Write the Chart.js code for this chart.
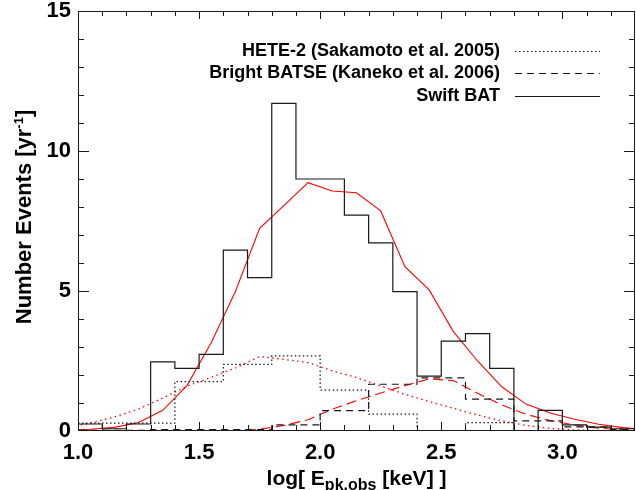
<!DOCTYPE html>
<html>
<head>
<meta charset="utf-8">
<script src="https://cdn.jsdelivr.net/npm/chart.js@4.4.1/dist/chart.umd.min.js"></script>
<style>
  html, body { margin: 0; padding: 0; background: #ffffff; }
  #wrap { width: 636px; height: 490px; position: relative; }
</style>
</head>
<body>
<div id="wrap"><canvas id="c"></canvas></div>
<script>
// Lower edges of the 0.1-wide log(Epk) bins, and the upper edge of the last bin
const binEdges = [1.0, 1.1, 1.2, 1.3, 1.4, 1.5, 1.6, 1.7, 1.8, 1.9, 2.0, 2.1,
                  2.2, 2.3, 2.4, 2.5, 2.6, 2.7, 2.8, 2.9, 3.0, 3.1, 3.2];
const binTop = 3.3;

// Observed rates per bin [yr^-1]
const swiftBAT = [0.25, 0.08, 0.25, 2.47, 2.24, 2.74, 6.46, 5.48, 11.70, 9.0, 9.0, 7.71,
                  6.72, 4.98, 1.96, 3.21, 3.48, 2.24, 0.0, 0.74, 0.22, 0.14, 0.08];
const hete2    = [0.28, 0.28, 0.28, 0.28, 1.76, 1.76, 2.38, 2.38, 2.68, 2.68, 1.46, 1.46,
                  0.60, 0.60, 0.0, 0.0, 0.30, 0.30, 0.0, 0.0, 0.0, 0.0, 0.0];
const batse    = [0.02, 0.02, 0.02, 0.05, 0.05, 0.05, 0.05, 0.05, 0.22, 0.22, 0.73, 0.73,
                  1.67, 1.67, 1.90, 1.90, 1.14, 1.14, 0.36, 0.36, 0.15, 0.15, 0.05];

// Model curves sampled at bin centres
const modelX     = [0.95, 1.05, 1.15, 1.25, 1.35, 1.45, 1.55, 1.65, 1.75, 1.85, 1.95, 2.05, 2.15,
                    2.25, 2.35, 2.45, 2.55, 2.65, 2.75, 2.85, 2.95, 3.05, 3.15, 3.25, 3.35];
const swiftModel = [0.02, 0.06, 0.13, 0.30, 0.74, 1.62, 3.15, 4.98, 7.24, 8.05, 8.87, 8.57, 8.51,
                    7.86, 5.87, 5.04, 3.55, 2.50, 1.58, 0.96, 0.64, 0.42, 0.24, 0.12, 0.06];
const heteModel  = [0.12, 0.28, 0.50, 0.78, 1.18, 1.60, 1.92, 2.25, 2.66, 2.56, 2.44, 2.15, 1.91,
                    1.61, 1.31, 1.05, 0.81, 0.57, 0.36, 0.20, 0.09, 0.04, 0.02, 0.01, 0.0];
const batseModel = [0.0, 0.01, 0.01, 0.0, 0.0, 0.0, 0.01, 0.02, 0.06, 0.20, 0.40, 0.78, 1.08,
                    1.36, 1.62, 1.86, 1.80, 1.35, 0.93, 0.60, 0.37, 0.22, 0.10, 0.04, 0.02];

// Axis tick labels
const xTicks = [1.0, 1.5, 2.0, 2.5, 3.0];
const yTicks = [0, 5, 10, 15];

// Legend entries (top to bottom)
const legendLabels = ['HETE-2 (Sakamoto et al. 2005)', 'Bright BATSE (Kaneko et al. 2006)', 'Swift BAT'];

const FONT = "'Liberation Sans', Arial, Helvetica, sans-serif";
const INK = '#1a1a1a';
const RED = '#ff0000';

function histPoints(vals) {
  const pts = binEdges.map((x, i) => ({ x: x, y: vals[i] }));
  pts.push({ x: binTop, y: vals[vals.length - 1] });
  return pts;
}
function curvePoints(vals) {
  return modelX.map((x, i) => ({ x: x, y: vals[i] }));
}

const lineBase = { pointRadius: 0, pointHoverRadius: 0, fill: false, tension: 0 };

const datasets = [
  Object.assign({ label: legendLabels[0], data: histPoints(hete2), borderColor: INK,
    borderWidth: 1.2, borderDash: [1.5, 2.5], stepped: 'before' }, lineBase),
  Object.assign({ label: legendLabels[1], data: histPoints(batse), borderColor: INK,
    borderWidth: 1.2, borderDash: [7, 5], stepped: 'before' }, lineBase),
  Object.assign({ label: legendLabels[2], data: histPoints(swiftBAT), borderColor: INK,
    borderWidth: 1.2, borderDash: [], stepped: 'before' }, lineBase),
  Object.assign({ label: 'Swift BAT model', data: curvePoints(swiftModel), borderColor: RED,
    borderWidth: 1.1, borderDash: [] }, lineBase),
  Object.assign({ label: 'HETE-2 model', data: curvePoints(heteModel), borderColor: RED,
    borderWidth: 1.3, borderDash: [1.5, 3.5] }, lineBase),
  Object.assign({ label: 'BATSE model', data: curvePoints(batseModel), borderColor: RED,
    borderWidth: 1.1, borderDash: [10, 5] }, lineBase)
];

// Closed frame with inward major/minor ticks on all four sides (1px filled strips)
function drawFrame(chart) {
  const ctx = chart.ctx, a = chart.chartArea;
  const xs = chart.scales.x, ys = chart.scales.y;
  const L = Math.round(a.left), R = Math.round(a.right) - 1;
  const T = Math.round(a.top), B = Math.round(a.bottom) - 1;
  ctx.save();
  ctx.globalAlpha = 1;
  ctx.fillStyle = INK;
  ctx.fillRect(L, T, R - L + 1, 1);
  ctx.fillRect(L, B, R - L + 1, 1);
  ctx.fillRect(L, T, 1, B - T + 1);
  ctx.fillRect(R, T, 1, B - T + 1);
  // x ticks every 0.1, major every 0.5
  for (let k = 10; k <= 33; k++) {
    const px = Math.round(xs.getPixelForValue(k / 10));
    if (px <= L + 1 || px >= R - 1) continue;
    const len = (k % 5 === 0) ? 8 : 5;
    ctx.fillRect(px, B - len, 1, len);
    ctx.fillRect(px, T, 1, len);
  }
  // y ticks every 1, major every 5
  for (let v = 0; v <= 15; v++) {
    const py = Math.round(ys.getPixelForValue(v));
    if (py <= T + 1 || py >= B - 1) continue;
    const len = (v % 5 === 0) ? 11 : 6;
    ctx.fillRect(L, py, len, 1);
    ctx.fillRect(R - len + 1, py, len, 1);
  }
  ctx.restore();
}

// Axis titles with sub/superscripts, and the line-style legend
function drawTexts(chart) {
  const ctx = chart.ctx, a = chart.chartArea;
  ctx.save();
  ctx.fillStyle = '#000';
  ctx.textBaseline = 'alphabetic';
  ctx.textAlign = 'left';

  // x title: log[ E_pk.obs [keV] ]
  const big = 'bold 21px ' + FONT, sub = 'bold 16px ' + FONT;
  const parts = [['log[ E', big, 0], ['pk.obs', sub, 5], [' [keV] ]', big, 0]];
  let w = 0;
  parts.forEach(p => { ctx.font = p[1]; w += ctx.measureText(p[0]).width; });
  let cx = (a.left + a.right) / 2 - w / 2;
  parts.forEach(p => { ctx.font = p[1]; ctx.fillText(p[0], cx, 485 + p[2]); cx += ctx.measureText(p[0]).width; });

  // y title: Number Events [yr^-1]
  const ybig = 'bold 22px ' + FONT, sup = 'bold 13px ' + FONT;
  const yparts = [['Number Events [yr', ybig, 0], ['-1', sup, -8], [']', ybig, 0]];
  w = 0;
  yparts.forEach(p => { ctx.font = p[1]; w += ctx.measureText(p[0]).width; });
  ctx.save();
  ctx.translate(31, (a.top + a.bottom) / 2 - 4);
  ctx.rotate(-Math.PI / 2);
  cx = -w / 2;
  yparts.forEach(p => { ctx.font = p[1]; ctx.fillText(p[0], cx, p[2]); cx += ctx.measureText(p[0]).width; });
  ctx.restore();

  // legend
  const rows = [50.5, 72.5, 95.5];
  ctx.font = 'bold 18px ' + FONT;
  ctx.textAlign = 'right';
  ctx.textBaseline = 'middle';
  [0, 1, 2].forEach((di, r) => {
    const ds = chart.data.datasets[di];
    ctx.fillStyle = '#000';
    ctx.fillText(ds.label, 500, rows[r] + 1);
    ctx.strokeStyle = ds.borderColor;
    ctx.lineWidth = 1.2;
    ctx.setLineDash(ds.borderDash || []);
    ctx.beginPath();
    ctx.moveTo(515, Math.round(rows[r]) + 0.5);
    ctx.lineTo(600, Math.round(rows[r]) + 0.5);
    ctx.stroke();
  });
  ctx.restore();
}

const framePlugin = { id: 'plotFrame', afterDraw(chart) { drawFrame(chart); } };
const textPlugin = { id: 'plotTexts', afterDraw(chart) { drawTexts(chart); } };

new Chart(document.getElementById('c'), {
  type: 'line',
  data: { datasets: datasets },
  options: {
    responsive: true,
    maintainAspectRatio: false,
    animation: false,
    events: [],
    layout: { padding: { top: 11, right: 1, left: 0, bottom: 0 } },
    plugins: { legend: { display: false }, tooltip: { enabled: false } },
    scales: {
      x: {
        type: 'linear', min: 1.0, max: 3.3,
        grid: { display: false, drawTicks: false },
        border: { display: false },
        ticks: {
          color: '#000', padding: 11, maxRotation: 0, autoSkip: false,
          font: { family: FONT, size: 22, weight: 'bold', lineHeight: 1 },
          callback: v => Number(v).toFixed(1)
        },
        afterBuildTicks: s => { s.ticks = xTicks.map(v => ({ value: v })); },
        afterFit: s => { s.height = 59; s.paddingLeft = 0; s.paddingRight = 0; }
      },
      y: {
        type: 'linear', min: 0, max: 15,
        grid: { display: false, drawTicks: false },
        border: { display: false },
        ticks: {
          color: '#000', padding: 7, autoSkip: false,
          font: { family: FONT, size: 22, weight: 'bold', lineHeight: 1 },
          callback: v => String(v)
        },
        afterBuildTicks: s => { s.ticks = yTicks.map(v => ({ value: v })); },
        afterFit: s => { s.width = 78; s.paddingTop = 0; s.paddingBottom = 0; }
      }
    }
  },
  plugins: [framePlugin, textPlugin]
});
</script>
</body>
</html>
